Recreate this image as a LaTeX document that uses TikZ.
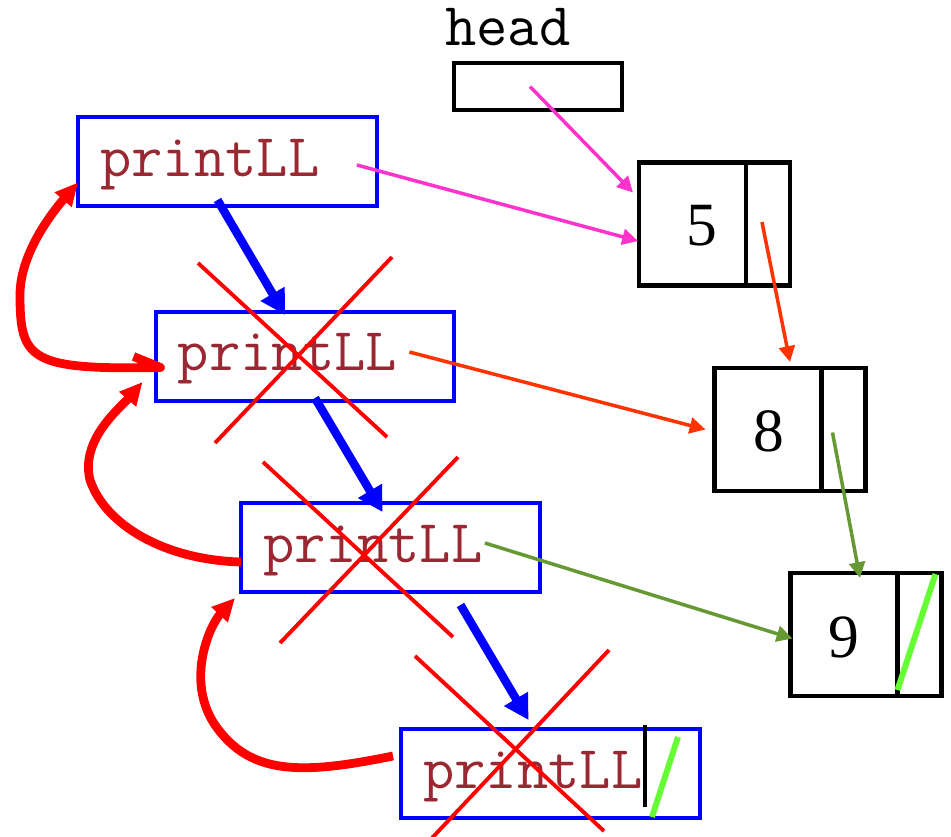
\documentclass[tikz,border=0pt]{standalone}
\usepackage{fontspec}
\usepackage{xcolor}
\usepackage{tikz}
\usetikzlibrary{arrows.meta, positioning, calc}
\newfontfamily\numfont{Liberation Serif}
\definecolor{callblue}{RGB}{0, 0, 255}
\definecolor{retred}{RGB}{255, 0, 0}
\definecolor{codetext}{RGB}{153, 40, 50}
\definecolor{headpink}{RGB}{255, 51, 204}
\definecolor{nextorange}{RGB}{255, 51, 0}
\definecolor{nextolive}{RGB}{102, 153, 51}
\definecolor{nullgreen}{RGB}{102, 255, 51}

\begin{document}
\begin{tikzpicture}[x=0.02cm, y=-0.02cm,
    callbox/.style={rectangle, draw=callblue, line width=2.3pt, outer sep=0pt, inner sep=0pt, minimum width=5.98cm, minimum height=1.78cm},
    codetxt/.style={inner sep=0pt, anchor=base west, text=codetext, font=\ttfamily\fontsize{34.6}{35}\selectfont},
    databox/.style={rectangle, draw=black, line width=2.5pt, outer sep=0pt, minimum width=2.14cm, minimum height=2.46cm},
    ptrbox/.style={rectangle, draw=black, line width=2.5pt, outer sep=0pt, minimum width=0.88cm, minimum height=2.46cm},
    valtxt/.style={inner sep=0pt, font=\numfont\fontsize{35}{35}\selectfont},
    call/.style={-{Triangle[length=14pt, width=15pt]}, line width=4.8pt, draw=callblue},
    back/.style={-{Triangle[length=13pt, width=12pt]}, line width=5pt, line join=round, draw=retred},
    nextlink/.style={-{Triangle[length=9pt, width=9pt]}, line width=2pt},
    strike/.style={draw=retred, line width=2.2pt},
    nullmark/.style={draw=nullgreen, line width=3.4pt}
]
    \useasboundingbox (0,0) rectangle (951,836);

    % the list: head pointer and three cells
    \node[codetxt, text=black] (hdname) at (445,45) {head};
    \node[rectangle, draw=black, line width=2.5pt, outer sep=0pt, minimum width=3.36cm, minimum height=0.94cm] (hd) at (538,86.5) {};

    \node[databox] (d5) at (692.5,224) {};
    \node[ptrbox, right=0pt of d5] (p5) {};
    \node[valtxt] (v5) at (701.5,226) {5};

    \node[databox] (d8) at (768,429.5) {};
    \node[ptrbox, right=0pt of d8] (p8) {};
    \node[valtxt] (v8) at (768.5,431) {8};

    \node[databox] (d9) at (844,634.5) {};
    \node[ptrbox, right=0pt of d9] (p9) {};
    \node[valtxt] (v9) at (843.5,637) {9};

    % recursive calls
    \node[callbox] (f1) at (227.5,161.5) {};
    \node[callbox] (f2) at (305,356.5) {};
    \node[callbox] (f3) at (390.5,547.5) {};
    \node[callbox] (f4) at (550.5,773.5) {};
    \node[codetxt] (t1) at ($(f1.north west)+(22,59)$) {printLL};
    \node[codetxt] (t2) at ($(f2.north west)+(22,58)$) {printLL};
    \node[codetxt] (t3) at ($(f3.north west)+(22,59)$) {printLL};
    \node[codetxt] (t4) at ($(f4.north west)+(22,59)$) {printLL};

    \draw[nextlink, headpink] ($(hd.center)+(-8,0)$) -- ($(d5.north west)+(-6,30)$);
    \draw[nextlink, headpink] ($(t1.base east)+(37,-11)$) -- ($(d5.west)+(-1,17)$);
    \draw[nextlink, nextorange] ($(p5.center)+(-6,-2)$) -- ($(d8.north)+(22,-6)$);
    \draw[nextlink, nextorange] ($(t2.base east)+(12,-18)$) -- ($(d8.west)+(-9,0)$);
    \draw[nextlink, nextolive] ($(p8.center)+(-11,3)$) -- ($(d9.north)+(16,5)$);
    \draw[nextlink, nextolive] ($(t3.base east)+(2,-19)$) -- ($(d9.west)+(2,4)$);

    \draw[call] ($(f1.south)+(-10,-6)$) -- ($(f2.north)+(-20,3)$);
    \draw[call] ($(f2.south)+(10,-3)$) -- ($(f3.north)+(-8,9)$);
    \draw[call] ($(f3.south)+(70,13)$) -- ($(f4.north)+(-22,-9)$);

    % returns
    \draw[back] ($(f2.west)+(-22,0)$) -- ($(f2.west)+(5,11)$)
        .. controls (30,370) and (20,360) .. (20,295)
        .. controls (20,255) and (50,215) .. ($(f1.west)+(0,21)$);
    \draw[back] ($(f3.west)+(0,14.5)$)
        .. controls (165,560) and (105,525) .. (90,480)
        .. controls (80,440) and (120,408) .. ($(f2.west)+(-13,25.5)$);
    \draw[back] ($(f4.west)+(-8,-17.5)$)
        .. controls (300,775) and (250,775) .. (215,725)
        .. controls (185,680) and (210,625) .. ($(f3.south west)+(-6,6)$);

    % finished frames crossed out
    \draw[strike] (198,263) -- (387,437);
    \draw[strike] (392,257) -- (215,443);
    \draw[strike] (263,462) -- (453,637);
    \draw[strike] (458,457) -- (280,643);
    \draw[strike] (415,656) -- (604,831);
    \draw[strike] (609,650) -- (432,838);

    % null pointers
    \draw[line width=2.8pt] ($(f4.north west)+(244,-4)$) -- ($(f4.north west)+(244,78)$);
    \draw[nullmark] ($(f4.south east)+(-48,-1)$) -- ($(f4.north east)+(-22,8)$);
    \draw[nullmark] ($(p9.south west)+(0,-6)$) -- ($(p9.north east)+(-6,1)$);
\end{tikzpicture}
\end{document}
